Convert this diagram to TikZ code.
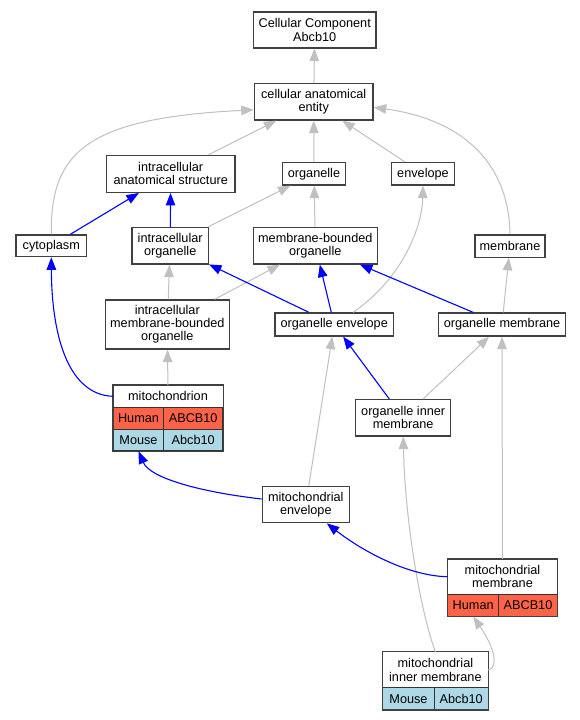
\documentclass[tikz,border=0pt]{standalone}
\usepackage{fontspec}
\setmainfont{Liberation Sans}
\usetikzlibrary{arrows.meta}
\usepackage{xcolor}
\definecolor{tomato}{RGB}{255,99,71}
\definecolor{lightblue}{RGB}{173,216,230}
\definecolor{edgegray}{RGB}{192,192,192}
\definecolor{boxgray}{RGB}{64,64,64}

\begin{document}
\begin{tikzpicture}[x=1pt,y=-1pt,
        font=\fontsize{12.7}{13.2}\selectfont,
        term/.style 2 args={draw=boxgray,line width=1.3pt,fill=white,inner sep=0pt,align=center,minimum width=#1pt,minimum height=#2pt},
        head/.style 2 args={inner sep=0pt,align=center,minimum width=#1pt,minimum height=#2pt},
        cell/.style 2 args={draw=black!80,line width=1pt,fill=#2,inner sep=0pt,minimum width=#1pt,minimum height=21.6pt},
        frame/.style={draw=boxgray,line width=1.3pt},
        isa/.style={edgegray,line width=1pt,-{Triangle[length=12.5pt,width=9.5pt]}},
        part/.style={blue,line width=1.1pt,-{Triangle[length=12.5pt,width=9.5pt]}}]
        \fill[white] (0,0) rectangle (580,720);
        % terms
        \node[term={122.7}{36}] (cc) at (314.7,30) {Cellular Component\\Abcb10};
        \node[term={118.7}{36.3}] (cae) at (313.7,101.8) {cellular anatomical\\entity};
        \node[term={128.7}{37}] (ias) at (170.7,173.8) {intracellular\\anatomical structure};
        \node[term={62.6}{22.3}] (org) at (314,173.8) {organelle};
        \node[term={62.6}{22.3}] (env) at (423,173.8) {envelope};
        \node[term={70.7}{21.7}] (cyto) at (51.3,245.8) {cytoplasm};
        \node[term={76.3}{36.3}] (io) at (170.2,245.8) {intracellular\\organelle};
        \node[term={124}{36.3}] (mbo) at (315.3,245.8) {membrane-bounded\\organelle};
        \node[term={70}{22.3}] (mem) at (510,246) {membrane};
        \node[term={124}{49}] (imbo) at (167.3,324.5) {intracellular\\membrane-bounded\\organelle};
        \node[term={118.3}{23}] (oe) at (334.2,324.5) {organelle envelope};
        \node[term={127.4}{23}] (om) at (502,324.5) {organelle membrane};
        \node[term={95}{36.3}] (oim) at (403.2,417.8) {organelle inner\\membrane};
        \node[term={87}{36}] (me) at (305.8,504.7) {mitochondrial\\envelope};
        % tables
        \node[head={109.4}{22}] (mito) at (168,396.3) {mitochondrion};
        \node[cell={50.4}{tomato}] (mitoh) at (138.5,418.2) {Human};
        \node[cell={59}{tomato}] (mitohg) at (193.2,418.2) {ABCB10};
        \node[cell={50.4}{lightblue}] (mitom) at (138.5,439.9) {Mouse};
        \node[cell={59}{lightblue}] (mitomg) at (193.2,439.9) {Abcb10};
        \draw[frame] (mito.north west) rectangle (mitomg.south east);

        \node[head={109.6}{35.3}] (mm) at (502.5,576.7) {mitochondrial\\membrane};
        \node[cell={51}{tomato}] (mmh) at (473.2,605.2) {Human};
        \node[cell={58.6}{tomato}] (mmhg) at (528,605.2) {ABCB10};
        \draw[frame] (mm.north west) rectangle (mmhg.south east);

        \node[head={105.3}{36}] (mim) at (435.4,670) {mitochondrial\\inner membrane};
        \node[cell={51.6}{lightblue}] (mimm) at (408.5,698.7) {Mouse};
        \node[cell={53.7}{lightblue}] (mimmg) at (461.2,698.7) {Abcb10};
        \draw[frame] (mim.north west) rectangle (mimmg.south east);
        % is_a
        \draw[isa] (cae) -- (cc);
        \draw[isa] (ias) -- (cae);
        \draw[isa] (org) -- (cae);
        \draw[isa] (env) -- (cae);
        \draw[isa] (cyto.north) .. controls (50,150) and (90,118) .. ([yshift=-8pt]cae.west);
        \draw[isa] (mem.north) .. controls (509,165) and (465,120) .. ([yshift=-5.5pt]cae.east);
        \draw[isa] (io) -- (org);
        \draw[isa] (mbo) -- (org);
        \draw[isa] (imbo) -- (io);
        \draw[isa] (imbo) -- (mbo);
        \draw[isa] ([xshift=19pt]oe.north) .. controls (400,280) and (422,230) .. (env.south);
        \draw[isa] (om) -- (mem);
        \draw[isa] (mito) -- (imbo);
        \draw[isa] (me) -- (oe);
        \draw[isa] (oim) -- (om);
        \draw[isa] (mm) -- (om);
        \draw[isa] (mim.north) .. controls (420,610) and (405,520) .. (oim.south);
        \draw[isa] (mim.east) .. controls (498,668) and (496,650) .. (mmh.south);
        % part_of
        \draw[part] (cyto) -- (ias);
        \draw[part] (io) -- (ias);
        \draw[part] (oe) -- (io);
        \draw[part] (oe) -- (mbo);
        \draw[part] (om) -- (mbo);
        \draw[part] (oim) -- (oe);
        \draw[part] (mito.west) .. controls (70,395) and (51.7,340) .. (cyto.south);
        \draw[part] ([yshift=5.7pt]me.west) .. controls (200,492) and (150,478) .. (mitom.south);
        \draw[part] (mm.west) .. controls (410,576) and (365,553) .. ([xshift=21pt]me.south);
\end{tikzpicture}
\end{document}
